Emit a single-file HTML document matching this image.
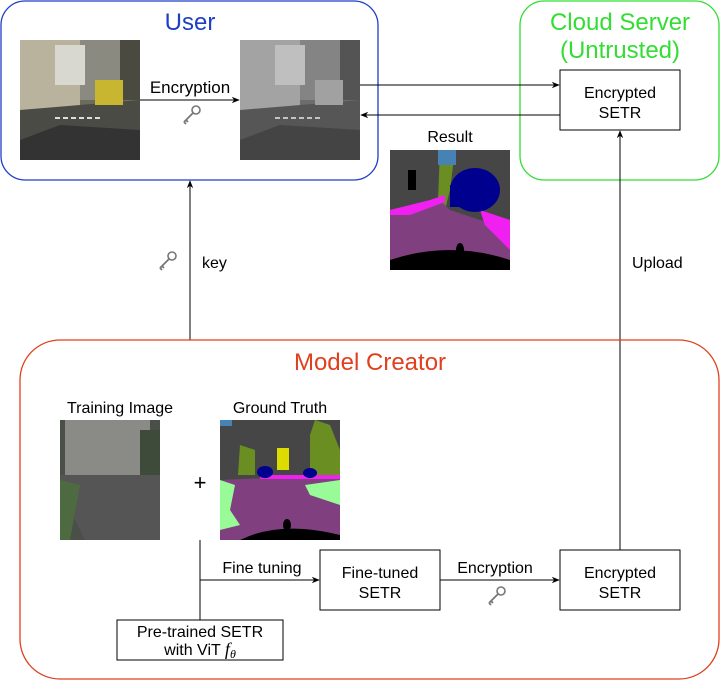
<!DOCTYPE html>
<html><head><meta charset="utf-8"><style>
body{margin:0;background:#fff;width:721px;height:681px;overflow:hidden}
text{font-family:"Liberation Sans",sans-serif}
</style></head><body>
<svg width="721" height="681" viewBox="0 0 721 681" xmlns="http://www.w3.org/2000/svg">
<defs>
<marker id="a" viewBox="0 0 10 10" refX="9" refY="5" markerWidth="8" markerHeight="8" orient="auto-start-reverse"><path d="M0,1 L10,5 L0,9 L3,5Z" fill="#000"/></marker>
<g id="key"><circle cx="6" cy="-6" r="4" fill="none" stroke="#777" stroke-width="1.6"/><path d="M3,-3 L-6,6 M-4,4 L-2,6 M-6,6 L-4,8" stroke="#777" stroke-width="1.8" fill="none"/></g>
<g id="street">
<rect width="120" height="120" fill="#6b6b5e"/>
<rect width="60" height="70" fill="#b9b29c"/>
<rect x="60" width="40" height="60" fill="#8a8a80"/>
<rect x="35" y="5" width="30" height="40" fill="#d8d8d0"/>
<rect x="100" width="20" height="60" fill="#4a4a40"/>
<polygon points="0,70 120,60 120,120 0,120" fill="#4b4b45"/>
<polygon points="0,100 40,85 120,90 120,120 0,120" fill="#333"/>
<rect x="75" y="40" width="28" height="25" fill="#c8b530"/>
<path d="M35,78 L80,78" stroke="#ddd" stroke-width="2" stroke-dasharray="5,3"/>
</g>
</defs>

<!-- User -->
<rect x="1" y="1" width="377" height="179" rx="24" fill="none" stroke="#1f3ec8" stroke-width="1.3"/>
<text x="190" y="30" font-size="24" fill="#1f3ec8" text-anchor="middle">User</text>
<use href="#street" x="20" y="40"/>
<g transform="translate(240,40)"><use href="#street" style="filter:grayscale(1)"/></g>
<rect x="240" y="40" width="120" height="120" fill="#777" opacity="0.25"/>
<line x1="140" y1="100" x2="239" y2="100" stroke="#000" marker-end="url(#a)"/>
<text x="190" y="93" font-size="17" text-anchor="middle">Encryption</text>
<use href="#key" x="190" y="116"/>

<!-- Cloud -->
<rect x="520" y="1" width="199" height="179" rx="24" fill="none" stroke="#33dd33" stroke-width="1.3"/>
<text x="620" y="30" font-size="24" fill="#33dd33" text-anchor="middle">Cloud Server</text>
<text x="620" y="58" font-size="24" fill="#33dd33" text-anchor="middle">(Untrusted)</text>
<rect x="560" y="70" width="120" height="60" fill="#fff" stroke="#000"/>
<text x="620" y="98" font-size="16" text-anchor="middle">Encrypted</text>
<text x="620" y="118" font-size="16" text-anchor="middle">SETR</text>
<line x1="360" y1="85" x2="559" y2="85" stroke="#000" marker-end="url(#a)"/>
<line x1="560" y1="115" x2="361" y2="115" stroke="#000" marker-end="url(#a)"/>

<!-- Result -->
<text x="450" y="142" font-size="16" text-anchor="middle">Result</text>
<g transform="translate(390,150)">
<rect width="120" height="120" fill="#464646"/>
<polygon points="50,0 65,0 60,40 55,60 48,50" fill="#6b8e23"/>
<rect x="48" y="0" width="18" height="15" fill="#4682b4"/>
<polygon points="0,60 50,50 60,60 90,70 120,75 120,120 0,120" fill="#804080"/>
<polygon points="0,60 40,50 55,45 55,52 20,65 0,65" fill="#f020f0"/>
<polygon points="90,60 120,70 120,100 95,75" fill="#f020f0"/>
<ellipse cx="85" cy="40" rx="25" ry="22" fill="#00008e"/>
<rect x="60" y="35" width="12" height="22" fill="#00008e"/>
<rect x="18" y="20" width="8" height="20" fill="#000"/>
<path d="M0,110 Q60,90 120,110 L120,120 L0,120Z" fill="#000"/>
<ellipse cx="70" cy="100" rx="4" ry="7" fill="#000"/>
</g>

<!-- key arrow -->
<line x1="190" y1="340" x2="190" y2="181" stroke="#000" marker-end="url(#a)"/>
<use href="#key" x="166" y="262"/>
<text x="202" y="268" font-size="16">key</text>

<!-- Upload -->
<line x1="620" y1="550" x2="620" y2="131" stroke="#000" marker-end="url(#a)"/>
<text x="632" y="268" font-size="16">Upload</text>

<!-- Model Creator -->
<rect x="20" y="340" width="699" height="339" rx="40" fill="none" stroke="#e0401e" stroke-width="1.3"/>
<text x="370" y="370" font-size="24" fill="#e0401e" text-anchor="middle">Model Creator</text>
<text x="120" y="413" font-size="16" text-anchor="middle">Training Image</text>
<g transform="translate(60,420)">
<rect width="100" height="120" fill="#4a4f48"/>
<rect x="5" y="0" width="85" height="55" fill="#8a8a86"/>
<rect x="80" y="10" width="20" height="50" fill="#3e4a3a"/>
<polygon points="0,55 100,55 100,120 25,120 0,70" fill="#555"/>
<polygon points="0,60 20,65 10,120 0,120" fill="#4d6a40"/>
</g>
<text x="280" y="413" font-size="16" text-anchor="middle">Ground Truth</text>
<g transform="translate(220,420)">
<rect width="120" height="120" fill="#464646"/>
<rect x="0" y="0" width="12" height="6" fill="#4682b4"/>
<polygon points="95,0 110,5 120,30 120,55 90,55 90,15" fill="#6b8e23"/>
<polygon points="20,25 35,30 35,55 18,55" fill="#6b8e23"/>
<polygon points="0,60 120,55 120,120 0,120" fill="#804080"/>
<polygon points="0,60 15,65 10,90 20,105 0,110" fill="#98fb98"/>
<polygon points="85,65 120,60 120,85 90,75" fill="#98fb98"/>
<rect x="40" y="55" width="80" height="4" fill="#f020f0"/>
<rect x="57" y="28" width="12" height="22" fill="#dcdc00"/>
<ellipse cx="45" cy="52" rx="8" ry="6" fill="#00008e"/>
<ellipse cx="90" cy="53" rx="7" ry="5" fill="#00008e"/>
<path d="M20,120 Q60,100 120,115 L120,120Z" fill="#000"/>
<ellipse cx="67" cy="105" rx="4" ry="6" fill="#000"/>
</g>
<text x="200" y="490" font-size="22" text-anchor="middle">+</text>

<line x1="200" y1="540" x2="200" y2="620" stroke="#000"/>
<line x1="200" y1="580" x2="319" y2="580" stroke="#000" marker-end="url(#a)"/>
<text x="262" y="573" font-size="16" text-anchor="middle">Fine tuning</text>
<rect x="117" y="620" width="166" height="40" fill="#fff" stroke="#000"/>
<text x="200" y="637" font-size="16" text-anchor="middle">Pre-trained SETR</text>
<text x="200" y="655" font-size="16" text-anchor="middle">with ViT <tspan font-family="Liberation Serif" font-style="italic" font-size="18">f</tspan><tspan font-family="Liberation Serif" font-style="italic" font-size="12" dy="3">θ</tspan></text>

<rect x="320" y="550" width="120" height="60" fill="#fff" stroke="#000"/>
<text x="380" y="578" font-size="16" text-anchor="middle">Fine-tuned</text>
<text x="380" y="598" font-size="16" text-anchor="middle">SETR</text>
<line x1="440" y1="580" x2="559" y2="580" stroke="#000" marker-end="url(#a)"/>
<text x="495" y="573" font-size="16" text-anchor="middle">Encryption</text>
<use href="#key" x="495" y="597"/>
<rect x="560" y="550" width="120" height="60" fill="#fff" stroke="#000"/>
<text x="620" y="578" font-size="16" text-anchor="middle">Encrypted</text>
<text x="620" y="598" font-size="16" text-anchor="middle">SETR</text>
</svg>
</body></html>
